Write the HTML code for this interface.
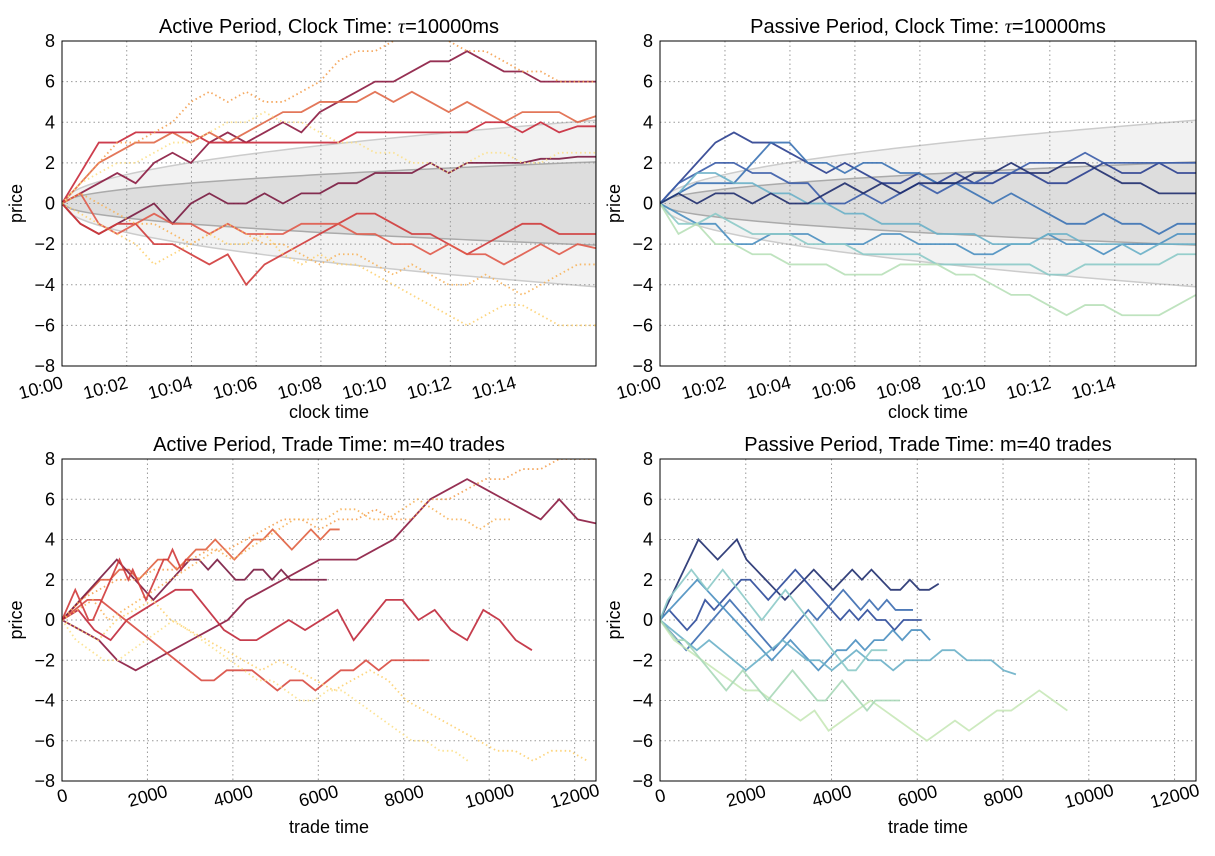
<!DOCTYPE html>
<html><head><meta charset="utf-8"><style>
body{margin:0;background:#fff;}
svg{display:block;font-family:"Liberation Sans","DejaVu Sans",sans-serif;}
</style></head><body>
<svg id="fig" width="1215" height="856" viewBox="0 0 1215 856" xmlns="http://www.w3.org/2000/svg"></svg>
<script>
// ---------- data ----------
const yTicks=[-8,-6,-4,-2,0,2,4,6,8];
const clockTickLabels=["10:00","10:02","10:04","10:06","10:08","10:10","10:12","10:14"];
const clockTickMinutes=[0,2,4,6,8,10,12,14];
const tradeTicks=[0,2000,4000,6000,8000,10000,12000];
const envOuter=4.1, envInner=2.05;

const tlValues=[
[0,0.5,1,1.5,1,2,2.5,2,3,3.5,3,3.5,4,3.5,4.5,5,5.5,6,6,6.5,7,7,7.5,7,6.5,6.5,6,6,6,6],
[0,1,2,2.5,3,3,3.5,3,3.5,3,3.5,4,4.5,4.5,5,5,5,5.5,5,5.5,5,4.5,5,4.5,4,4.5,4.5,4.5,4,4.3],
[0,1.5,3,3,3.5,3.5,3.5,3.5,3,3,3,3,3,3,3,3,3.5,3.5,3.5,3.5,3.5,3.5,3.5,4,4,3.5,4,3.5,3.8,3.8],
[0,-1,-1.5,-1,-0.5,0,-1,0,0.5,0,0,0.5,0,0.5,0.5,1,1,1.5,1.5,1.5,2,1.5,2,2,2,2,2.2,2.2,2.3,2.3],
[0,-1,-1.5,-1,-1,-2,-2,-2.5,-3,-2.5,-4,-3,-2.5,-2,-1.5,-1,-0.5,-0.5,-1,-1.5,-1.5,-2,-2.5,-2,-1.5,-1,-1,-1.5,-1.5,-1.5],
[0,0.5,-1,-1.5,-1,-0.5,-1,-1,-1.5,-1,-1.5,-1.5,-1.5,-1,-1,-1,-1.5,-1.5,-2,-2,-2.5,-2,-2.5,-2.5,-3,-2.5,-2,-2.5,-2,-2.2],
[0,1,2,3,3,3.5,4,5,5.5,5,5.5,5,5,5.5,6,7,7.5,7.5,8,8.5,8.5,8,7.5,7.5,7,6.5,6.5,6,6,6],
[0,-0.5,-1,-1.5,-2,-3,-2.5,-2,-1.5,-2,-2,-1.5,-2.5,-3,-2.5,-3,-3,-3.5,-4,-4.5,-5,-5.5,-6,-5.5,-5,-5,-5.5,-6,-6,-6],
[0,0.5,0,-0.5,-1,-1,-1.5,-2,-1.5,-1,-1.5,-2,-2,-2.5,-3,-2.5,-2.5,-3,-3.5,-3,-3.5,-4,-4,-3.5,-4,-4.5,-4,-3.5,-3,-3],
[0,1,1.5,2,2,2.5,3,3,3.5,4,4,4.5,4,4,3.5,3,3,2.5,2.5,2,2,1.5,2,2.5,2.5,2,2,2.5,2.5,2.5]
];
const tlColors=["#8b1a40","#e06848","#c8283a","#7a1a40","#d03a3a","#e05a4a","#f4a050","#fdd070","#f7b35a","#fce08a"];
const tlDotted=[0,0,0,0,0,0,1,1,1,1];

const trValues=[
[0,1,2,3,3.5,3,3,2.5,2,1.5,2,1.5,1,1,1.5,1,1.5,1,1,1.5,1.5,1,1,1.5,2,1.5,1.5,2,1.5,1.5],
[0,1,1.5,2,2,1.5,1.5,1,1,0,0,0.5,0,0.5,1,0.5,1,1,1.5,1.5,2,2,2,2.5,2,2,2,2,2,2],
[0,0.5,1,1,1,2,3,3,2,2,1.5,2,2,1.5,1.5,1,1,0.5,0,0.5,0,-0.5,-1,-1,-0.5,-1,-1,-1.5,-1,-1],
[0,-0.5,-1,-1,-2,-2,-1.5,-1.5,-1.5,-2,-2,-2,-1.5,-1.5,-2,-2,-2,-2.5,-2.5,-2,-2,-1.5,-2,-2,-2.5,-2,-2,-2,-1.5,-1.5],
[0,0.5,1.5,1.5,1,1,0.5,0.5,0,0,-0.5,-0.5,-1,-1,-1,-1.5,-1.5,-1.5,-2,-2,-2,-1.5,-1.5,-2,-2,-2,-2.5,-2,-2,-2],
[0,-1,-1,-0.5,-1,-1.5,-1.5,-1.5,-2,-2,-2,-2.5,-2.5,-2.5,-2.5,-3,-3,-3,-3,-3,-3,-3.5,-3.5,-3,-3,-3,-3,-3,-2.5,-2.5],
[0,-1.5,-1,-2,-2,-2.5,-2.5,-3,-3,-3,-3.5,-3.5,-3.5,-3,-3,-3,-3.5,-3.5,-4,-4.5,-4.5,-5,-5.5,-5,-5,-5.5,-5.5,-5.5,-5,-4.5],
[0,0.5,0,0.5,0.5,0,0.5,0,0,0.5,1,0.5,1,0.5,1,1,1,1.5,1.5,2,1.5,1.5,2,2,1.5,1,1,0.5,0.5,0.5]
];
const trColors=["#2a3f8f","#3a5ca8","#3b72b4","#4a8fc0","#6ab0c8","#8ccac8","#b8e0b8","#1f2d6e"];

const blValues=[
[0,-0.5,-1,-2,-2.5,-2,-1.5,-1,-0.5,0,1,1.5,2,2.5,3,3,3,3.5,4,5,6,6.5,7,6.5,6,5.5,5,6,5,4.8],
[0,0.5,-0.5,-1,0,0.5,1,1.5,1.5,0.5,-0.5,-1,-1,-0.5,0,-0.5,0,0.5,-1,0,1,1,0,0.5,-0.5,-1,0.5,0,-1,-1.5],
[0,0.5,1,1,0.5,0,-0.5,-1,-1.5,-2,-2.5,-3,-3,-2.5,-2.5,-2.5,-3,-3.5,-3,-3,-3.5,-3,-2.5,-2.5,-2,-2.5,-2,-2,-2,-2],
[0,0.5,1,1.5,2,2,2.5,2.5,2,2.5,3,3,2.5,3,3.5,3.5,4,3.5,3,3.5,4,4,4.5,4,3.5,4,4.5,4,4.5,4.5],
[0,0.5,1,1.5,2,2.5,3,2.5,2,1.5,1,1.5,2,2.5,3,3,2.5,3,2.5,2,2,2.5,2.5,2,2.5,2,2,2,2,2],
[0,1,1.5,2,2,2.5,2.5,3,3.5,3.5,4,4.5,5,5,4.5,5,5,5.5,5,5,6,6,6.5,7,7,7.5,7.5,8,8,8],
[0,-0.5,-1,0,0.5,1,0,-0.5,-1,-1.5,-2,-2.5,-2,-2.5,-3,-3.5,-3,-2.5,-3,-4,-4.5,-5,-5.5,-6,-6.5,-6.5,-7,-6.5,-6.5,-7],
[0,0.5,1,0,0.5,1,1.5,2,2.5,3,3.5,3,3.5,4,4.5,5,5,5,5.5,5.5,5,5,5.5,6,5.5,5,5,4.5,5,5],
[0,-1,-1.5,-2,-2,-1.5,-1,-0.5,0,-0.5,-1,-1.5,-2,-2.5,-3,-3,-3.5,-4,-4,-3.5,-3.5,-4,-4.5,-5,-5.5,-6,-6,-6.5,-6.5,-7],
[0,0.5,1,1.5,1,0.5,0,0,0.5,1,1.5,2,2.5,3,2.5,2,2.5,2,1.5,1,1.5,2,2.5,3,3,3.5,3,2.5,3,3]
];
const blEnds=[12500,11000,8600,6500,6200,12500,12300,10500,9500,3000];
const blColors=["#8b1a40","#c0283a","#d84a40","#e06040","#7a1a40","#f4a050","#fdd070","#f7b35a","#fce08a","#d03a3a"];
const blDotted=[0,0,0,0,0,1,1,1,1,0];

const brValues=[
[0,1,2,3,4,3.5,3,3.5,4,3,2.5,2,1.5,1,1.5,2,2.5,2,1.5,2,2.5,2,2.5,2,1.5,1.5,2,1.5,1.5,1.8],
[0,0.5,0,-0.5,0,1,0.5,1,1.5,2,2,1.5,1,1.5,2,2.5,2,1.5,1,0.5,0,0.5,0,0.5,0,0,-0.5,0,0,0],
[0,-0.5,-1,-1.5,-1,-0.5,0,0.5,1,0.5,0,-0.5,-1,-1.5,-1,-0.5,0,0.5,0,0.5,1,1.5,1,0.5,1,0.5,1,0.5,0.5,0.5],
[0,0.5,1,1.5,2,1.5,1,0.5,0,-0.5,-1,-1.5,-2,-1.5,-1,-1.5,-2,-2.5,-2,-1.5,-1.5,-1,-1.5,-1,-1,-0.5,-1,-0.5,-0.5,-1],
[0,-0.5,-1,-1.5,-1,-1.5,-2,-2.5,-2,-1.5,-1,-1.5,-2,-2,-2.5,-2,-1.5,-2,-2,-2.5,-2,-2,-2,-1.5,-1.5,-2,-2,-2,-2.5,-2.7],
[0,1,1.5,2,2.5,2,1.5,2,2.5,2,1.5,1,0.5,0,0.5,1,1.5,1,0.5,0,-0.5,-1,-1.5,-2,-2.5,-2.5,-2,-1.5,-1.5,-1.5],
[0,-1,-1.5,-2,-2.5,-3,-3.5,-3.5,-4,-4.5,-5,-4.5,-5.5,-5,-4.5,-4,-4.5,-5,-5.5,-6,-5.5,-5,-5.5,-5,-4.5,-4.5,-4,-3.5,-4,-4.5],
[0,-0.5,-1,-1,-1.5,-2,-2.5,-3,-3.5,-3,-2.5,-3,-3.5,-4,-3.5,-3,-2.5,-3,-3.5,-4,-4,-3.5,-3,-3.5,-4,-4.5,-4,-4,-4,-4]
];
const brEnds=[6500,6100,5900,6300,8300,5300,9500,5600];
const brColors=["#1f2d6e","#2c4a9a","#3b6cb0","#4a8fc0","#6ab0c8","#8ccac8","#c8e8b8","#a8d8b8"];

// ---------- drawing ----------
const NS="http://www.w3.org/2000/svg";
const svg=document.getElementById('fig');
function mk(tag,attrs,parent){const e=document.createElementNS(NS,tag);for(const k in attrs)e.setAttribute(k,attrs[k]);(parent||svg).appendChild(e);return e;}

function panel(p){
  const g=mk('g',{});
  
  
  const sx=v=>p.x0+(v-p.xmin)/(p.xmax-p.xmin)*(p.x1-p.x0);
  const sy=v=>p.y1-(v+8)/16*(p.y1-p.y0);
  const clip='c'+p.name;
  const cp=mk('clipPath',{id:clip},g);mk('rect',{x:p.x0,y:p.y0,width:p.x1-p.x0,height:p.y1-p.y0},cp);
  if(p.env){
    const N=60;
    const band=(a)=>{let up=[],dn=[];for(let i=0;i<=N;i++){const t=p.xmax*i/N;const r=a*Math.sqrt(t/p.xmax);up.push(sx(t)+','+sy(r));dn.unshift(sx(t)+','+sy(-r));}return up.concat(dn).join(' ');};
    const o=mk('polygon',{points:band(envOuter),fill:'#f2f2f2',stroke:'#cccccc','stroke-width':1.5,'clip-path':'url(#'+clip+')'},g);
    
    const inn=mk('polygon',{points:band(envInner),fill:'#dddddd',stroke:'#aaaaaa','stroke-width':1.5,'clip-path':'url(#'+clip+')'},g);
    
  }
  yTicks.forEach(v=>{mk('line',{x1:p.x0,x2:p.x1,y1:sy(v),y2:sy(v),stroke:'#999','stroke-dasharray':'1.5,3','stroke-width':1},g);
    const t=mk('text',{x:p.x0-7,y:sy(v)+6,'text-anchor':'end','font-size':18},g);t.textContent=(v<0?'\u2212'+(-v):v);
    });
  p.xt.forEach((v,i)=>{const x=sx(v);mk('line',{x1:x,x2:x,y1:p.y0,y2:p.y1,stroke:'#999','stroke-dasharray':'1.5,3','stroke-width':1},g);
    const t=mk('text',{x:x,y:p.y1+21,'text-anchor':p.clock?'end':'middle','font-size':18,transform:'rotate(-15 '+x+' '+(p.y1+14)+')'},g);
    if(p.clock) t.setAttribute('y',p.y1+22);
    t.textContent=p.xl[i];});
  p.vals.forEach((arr,i)=>{const end=p.ends?p.ends[i]:p.xmax;
    const pts=arr.map((v,j)=>sx(end*j/(arr.length-1))+','+sy(v)).join(' ');
    const l=mk('polyline',{points:pts,fill:'none',stroke:p.colors[i],'stroke-width':1.8,'stroke-opacity':0.9,'clip-path':'url(#'+clip+')'},g);
    if(p.dotted&&p.dotted[i]) l.setAttribute('stroke-dasharray','1.5,3');
    });
  const f=mk('rect',{x:p.x0,y:p.y0,width:p.x1-p.x0,height:p.y1-p.y0,fill:'none',stroke:'#000','stroke-width':1},g);
  
  const tt=mk('text',{x:(p.x0+p.x1)/2,y:p.y0-8,'text-anchor':'middle','font-size':20},g);tt.innerHTML=p.title;
  
  const yl=mk('text',{x:0,y:0,'text-anchor':'middle','font-size':18,transform:'translate('+(p.x0-40)+','+((p.y0+p.y1)/2)+') rotate(-90)'},g);yl.textContent='price';
  
  const xl=mk('text',{x:(p.x0+p.x1)/2,y:p.y1+52,'text-anchor':'middle','font-size':18},g);xl.textContent=p.xlabel;
  
}
panel({name:'active-clock-panel',x0:62,x1:596,y0:41,y1:366,xmin:0,xmax:16.5,clock:1,env:1,xt:clockTickMinutes,xl:clockTickLabels,vals:tlValues,colors:tlColors,dotted:tlDotted,title:'Active Period, Clock Time: <tspan font-style="italic" font-family="Liberation Serif">τ</tspan>=10000ms',xlabel:'clock time'});
panel({name:'passive-clock-panel',x0:660,x1:1196,y0:41,y1:366,xmin:0,xmax:16.5,clock:1,env:1,xt:clockTickMinutes,xl:clockTickLabels,vals:trValues,colors:trColors,title:'Passive Period, Clock Time: <tspan font-style="italic" font-family="Liberation Serif">τ</tspan>=10000ms',xlabel:'clock time'});
panel({name:'active-trade-panel',x0:62,x1:596,y0:459,y1:781,xmin:0,xmax:12500,xt:tradeTicks,xl:tradeTicks.map(String),vals:blValues,ends:blEnds,colors:blColors,dotted:blDotted,title:'Active Period, Trade Time: m=40 trades',xlabel:'trade time'});
panel({name:'passive-trade-panel',x0:660,x1:1196,y0:459,y1:781,xmin:0,xmax:12500,xt:tradeTicks,xl:tradeTicks.map(String),vals:brValues,ends:brEnds,colors:brColors,title:'Passive Period, Trade Time: m=40 trades',xlabel:'trade time'});
</script>
</body></html>
